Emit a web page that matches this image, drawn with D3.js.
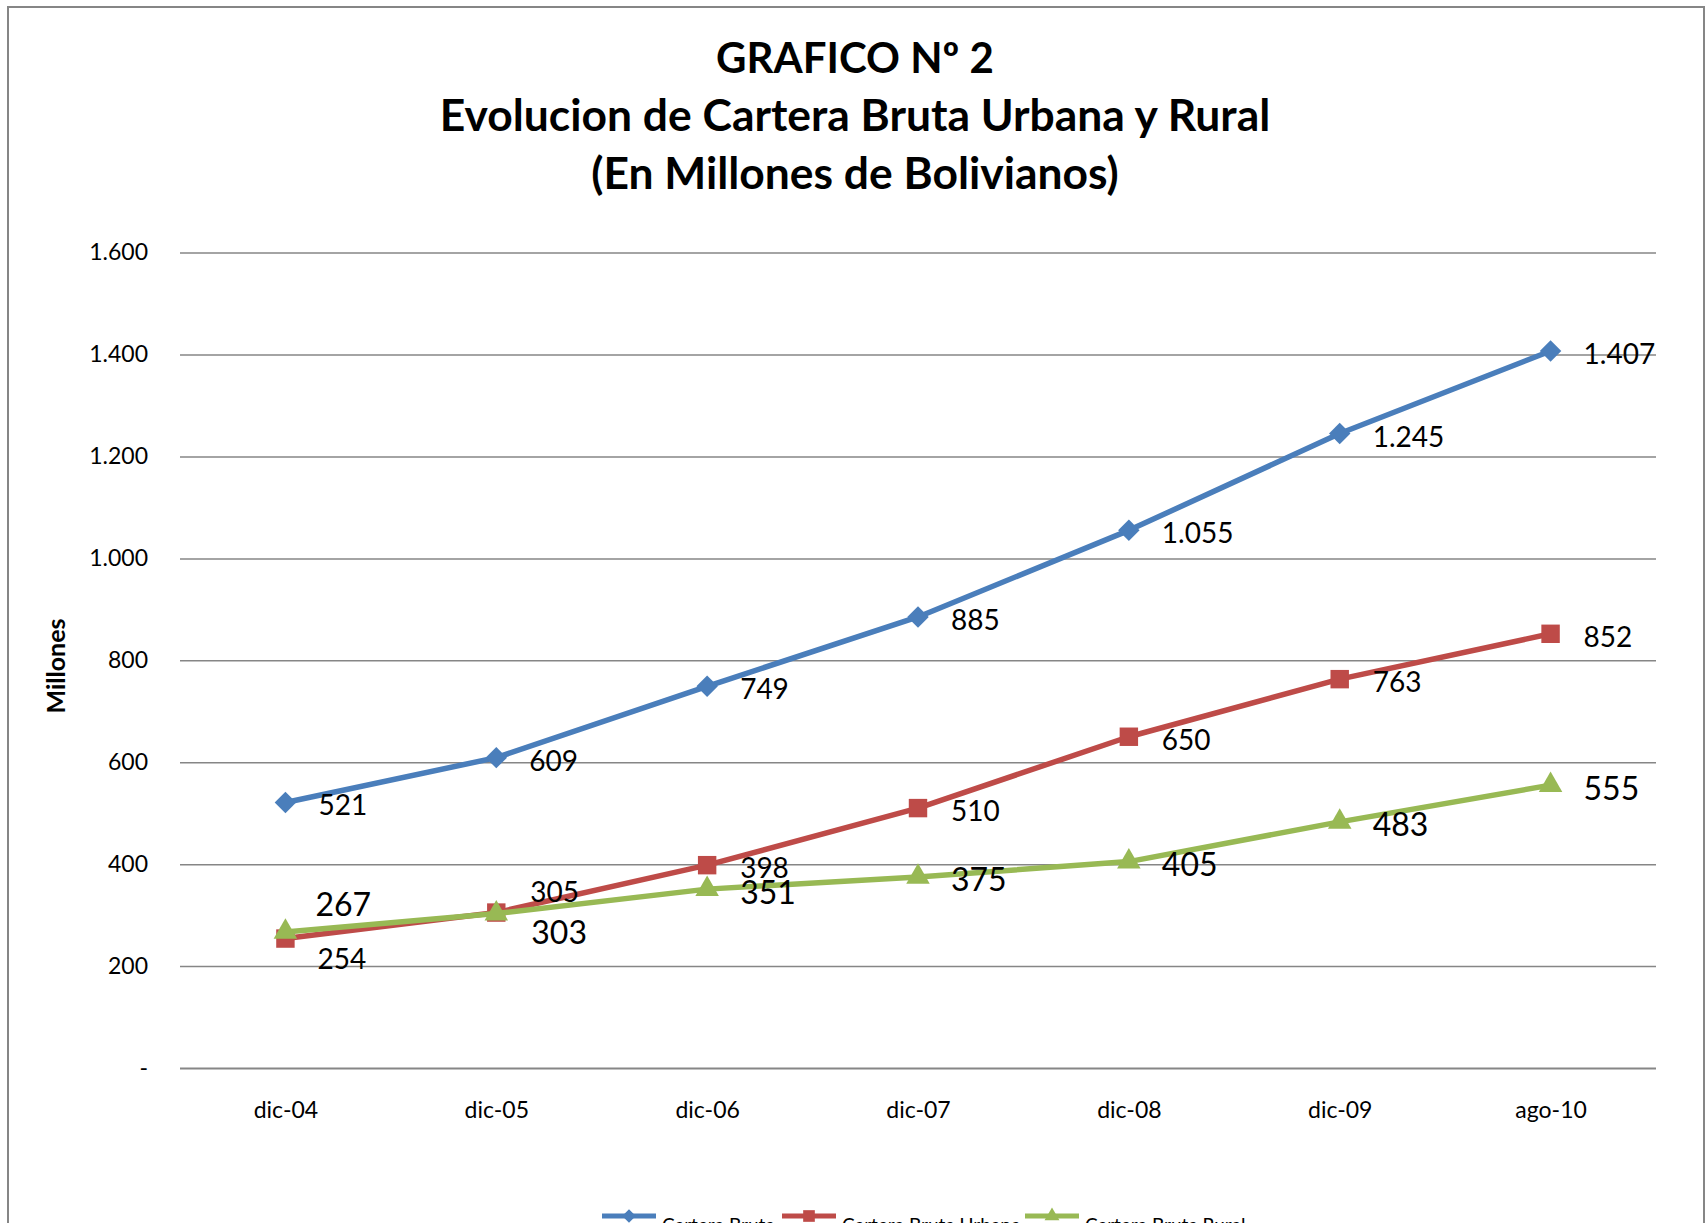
<!DOCTYPE html>
<html lang="es">
<head>
  <meta charset="UTF-8">
  <title>Grafico 2</title>
  <style>
    body { margin: 0; background: #fff; }
    svg { display: block; font-family: Lato, "Open Sans", sans-serif; }
  </style>
</head>
<body>
  <svg width="1707" height="1223"></svg>
  <script src="https://cdn.jsdelivr.net/npm/d3@7/dist/d3.min.js"></script>
  <script>
    var categories = ['dic-04', 'dic-05', 'dic-06', 'dic-07', 'dic-08', 'dic-09', 'ago-10']
    var carteraBruta = [521, 609, 749, 885, 1055, 1245, 1407]
    var carteraUrbana = [254, 305, 398, 510, 650, 763, 852]
    var carteraRural = [267, 303, 351, 375, 405, 483, 555]
    var yTicks = [0, 200, 400, 600, 800, 1000, 1200, 1400, 1600]

    // Excel-style markers: diamond is a square turned 45 degrees
    var series = [
      { name: 'Cartera Bruta', values: carteraBruta, color: '#4A7EBB', symbol: d3.symbolSquare, rotate: 45, size: 230, labelSize: 28 },
      { name: 'Cartera Bruta Urbana', values: carteraUrbana, color: '#BE4B48', symbol: d3.symbolSquare, rotate: 0, size: 340, labelSize: 28 },
      { name: 'Cartera Bruta Rural', values: carteraRural, color: '#98B954', symbol: d3.symbolTriangle, rotate: 0, size: 240, labelSize: 32 }
    ]

    // manual label nudges (series index, point index) -> [dx, dy]
    var nudges = { '1-0': [32, 19], '1-1': [34, -22], '2-0': [30, -28], '2-1': [35, 18] }

    var svg = d3.select('svg')
    var locale = d3.formatLocale({ decimal: ',', thousands: '.', grouping: [3], currency: ['', ''] })
    var fmt = locale.format(',d')

    svg.append('rect').attr('width', 1707).attr('height', 1223).attr('fill', '#fff')
    svg.append('rect')
      .attr('x', 8).attr('y', 7).attr('width', 1696).attr('height', 1240)
      .attr('fill', 'none').attr('stroke', '#868686').attr('stroke-width', 2)

    var plotLeft = 180, plotRight = 1656, plotTop = 252.6, plotBottom = 1068

    var x = d3.scalePoint().domain(categories).range([plotLeft, plotRight]).padding(0.5)
    var y = d3.scaleLinear().domain([0, 1600]).range([plotBottom, plotTop])

    // title
    var titles = ['GRAFICO Nº 2', 'Evolucion de Cartera Bruta Urbana y Rural', '(En Millones de Bolivianos)']
    svg.append('g').selectAll('text')
      .data(titles)
      .enter().append('text')
      .attr('x', 855)
      .attr('y', function(d, i) { return 73 + i * 58 })
      .attr('text-anchor', 'middle')
      .attr('font-size', function(d, i) { return i === 0 ? 42 : 44.4 })
      .attr('font-weight', 'bold')
      .text(function(d) { return d })

    // grid + y axis labels
    var yAxis = d3.axisLeft(y).tickValues(yTicks).tickSize(-(plotRight - plotLeft)).tickPadding(32)
      .tickFormat(function(d) { return d === 0 ? '-' : fmt(d) })
    var gy = svg.append('g').attr('transform', 'translate(' + plotLeft + ',0)').call(yAxis)
    gy.select('.domain').remove()
    gy.selectAll('.tick line').attr('stroke', '#868686').attr('stroke-width', 1.5)
    gy.selectAll('.tick text').attr('font-size', 23).attr('font-family', 'Lato, sans-serif').attr('fill', '#000')
    gy.selectAll('.tick').filter(function(d) { return d === 0 }).select('line').attr('stroke-width', 2)

    // x axis labels
    var xAxis = d3.axisBottom(x).tickSize(0).tickPadding(34)
    var gx = svg.append('g').attr('transform', 'translate(0,' + plotBottom + ')').call(xAxis)
    gx.select('.domain').remove()
    gx.selectAll('.tick text').attr('font-size', 23).attr('font-family', 'Lato, sans-serif').attr('fill', '#000')

    // y axis title
    svg.append('text')
      .attr('transform', 'translate(65,666) rotate(-90)')
      .attr('text-anchor', 'middle')
      .attr('font-size', 25)
      .attr('font-weight', 'bold')
      .text('Millones')

    var line = d3.line()
      .x(function(d, i) { return x(categories[i]) })
      .y(function(d) { return y(d) })

    series.forEach(function(s) {
      var g = svg.append('g')
      g.append('path')
        .attr('d', line(s.values))
        .attr('fill', 'none')
        .attr('stroke', s.color)
        .attr('stroke-width', 5.5)
        .attr('stroke-linejoin', 'round')

      g.selectAll('.marker')
        .data(s.values)
        .enter().append('path')
        .attr('class', 'marker')
        .attr('transform', function(d, i) {
          return 'translate(' + x(categories[i]) + ',' + y(d) + ') rotate(' + s.rotate + ')'
        })
        .attr('d', d3.symbol().type(s.symbol).size(s.size))
        .attr('fill', s.color)
    })

    // data labels on top
    series.forEach(function(s, si) {
      svg.append('g').selectAll('text')
        .data(s.values)
        .enter().append('text')
        .attr('x', function(d, i) {
          var n = nudges[si + '-' + i]
          return x(categories[i]) + (n ? n[0] : 33)
        })
        .attr('y', function(d, i) {
          var n = nudges[si + '-' + i]
          return y(d) + (n ? n[1] : 2)
        })
        .attr('dominant-baseline', 'central')
        .attr('font-size', s.labelSize)
        .attr('fill', '#000')
        .text(function(d) { return fmt(d) })
    })

    // legend (clipped at the bottom edge)
    var legendX = [602, 782, 1025]
    var lg = svg.append('g').selectAll('g')
      .data(series)
      .enter().append('g')
      .attr('transform', function(d, i) { return 'translate(' + legendX[i] + ',1216)' })
    lg.append('line')
      .attr('x1', 0).attr('x2', 54)
      .attr('stroke', function(d) { return d.color })
      .attr('stroke-width', 5)
    lg.append('path')
      .attr('transform', function(d) { return 'translate(27,0) rotate(' + d.rotate + ')' })
      .attr('d', function(d) { return d3.symbol().type(d.symbol).size(d.size * 0.4)() })
      .attr('fill', function(d) { return d.color })
    lg.append('text')
      .attr('x', 60)
      .attr('y', 16)
      .attr('font-size', 19)
      .text(function(d) { return d.name })
  </script>
</body>
</html>
